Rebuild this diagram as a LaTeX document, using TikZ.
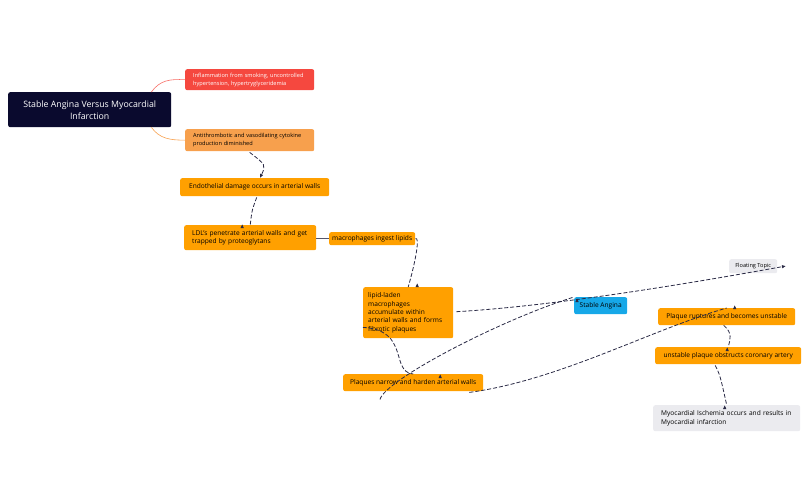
\documentclass[tikz,border=0pt]{standalone}
\usepackage{fontspec}
\setmainfont{Open Sans}
\usetikzlibrary{arrows.meta}
\definecolor{navy}{HTML}{0A0A2E}
\definecolor{redb}{HTML}{F5483F}
\definecolor{lorange}{HTML}{F7A04D}
\definecolor{orangeb}{HTML}{FFA000}
\definecolor{blueb}{HTML}{16A8E8}
\definecolor{grayb}{HTML}{EBEBEF}
\definecolor{linec}{HTML}{2A2A45}
\begin{document}
\begin{tikzpicture}[x=1pt,y=-1pt,
 box/.style={rounded corners=2pt,inner sep=0pt,font=\fontsize{6.6}{8.4}\selectfont,align=left,anchor=north west},
 ob/.style={box,fill=orangeb,text=black},
 dsh/.style={draw=linec,dashed,dash pattern=on 4pt off 2pt,thick,-{Latex[length=4pt,width=3.5pt]}}]
\useasboundingbox (0,0) rectangle (810,501);
\node[box,fill=navy,text=white,minimum width=163pt,minimum height=35pt,align=center,font=\fontsize{8.8}{12}\selectfont] (root) at (8,92) {Stable Angina Versus Myocardial\\Infarction};
\node[box,fill=redb,text=white,minimum width=129pt,minimum height=21pt,font=\fontsize{5.6}{7.8}\selectfont,text width=121pt] (red) at (185,69) {\hspace*{4pt}Inflammation from smoking, uncontrolled\\\hspace*{4pt}hypertension, hypertryglyceridemia};
\node[box,fill=lorange,text=black,minimum width=129pt,minimum height=22pt,font=\fontsize{5.6}{7.8}\selectfont,text width=121pt] (lo) at (185,129) {\hspace*{4pt}Antithrombotic and vasodilating cytokine\\\hspace*{4pt}production diminished};
\node[ob,minimum width=149pt,minimum height=18pt,align=center] (endo) at (180,178) {Endothelial damage occurs in arterial walls};
\node[ob,minimum width=132pt,minimum height=25pt,text width=124pt] (ldl) at (184,225) {\hspace*{4pt}LDL's penetrate arterial walls and get\\\hspace*{4pt}trapped by proteoglytans};
\node[ob,minimum width=86pt,minimum height=13pt,align=center] (mac) at (329,232) {macrophages ingest lipids};
\node[ob,minimum width=90pt,minimum height=51pt,text width=80pt,inner xsep=4pt] (lip) at (363,287) {lipid-laden\\macrophages\\accumulate within\\arterial walls and forms\\fibrotic plaques};
\node[box,fill=blueb,text=black,minimum width=53pt,minimum height=17pt,align=center] (sa) at (574,297) {Stable Angina};
\node[box,fill=grayb,text=black,minimum width=48pt,minimum height=14pt,align=center,font=\fontsize{5.6}{7}\selectfont] (ft) at (729,259) {Floating Topic};
\node[ob,minimum width=137pt,minimum height=17pt,align=center] (rup) at (658,308) {Plaque ruptures and becomes unstable};
\node[ob,minimum width=146pt,minimum height=17pt,align=center] (unst) at (655,347) {unstable plaque obstructs coronary artery};
\node[box,fill=grayb,text=black,minimum width=147pt,minimum height=26pt,text width=139pt] (myo) at (653,405) {\hspace*{4pt}Myocardial Ischemia occurs and results in\\\hspace*{4pt}Myocardial infarction};
\node[ob,minimum width=140pt,minimum height=17pt,align=center] (pn) at (343,374) {Plaques narrow and harden arterial walls};
\coordinate (ftend) at (786,266);
% branches
\draw[redb!80,semithick] (root.north east)++(-20,0) .. controls (160,80) and (170,79) .. (red.west);
\draw[lorange,semithick] (root.south east)++(-20,0) .. controls (160,139) and (170,140) .. (lo.west);
\draw[linec!80,thick] (ldl.east|-mac.west) -- (mac.west);
% dashed arrows
\draw[dsh] (lo.south)++(0,1) .. controls (266,165) .. (endo.north-|260,0);
\draw[dsh] (endo.south)++(2,1) .. controls (252,210) .. (ldl.north)++(-8,-1);
\draw[dsh] (mac.east) .. controls (420,236) and (416,260) .. (lip.north)++(9,-4);
\draw[dsh] (lip.east)++(3,-1) .. controls (520,308) and (620,296) .. (ftend);
\draw[dsh] (pn.south west)++(37,8) .. controls (385,380) and (500,320) .. (sa.north west)++(3,1);
\draw[dsh] (lip.south west)++(0,-11) .. controls (410,330) and (390,372) .. (pn.north)++(27,0);
\draw[dsh] (pn.south east)++(-14,1) .. controls (560,380) and (650,330) .. (rup.north)++(8,-3);
\draw[dsh] (rup.south)++(-3,0) .. controls (733,333) and (730,340) .. (unst.north)++(-1,0);
\draw[dsh] (unst.south)++(-13,1) .. controls (720,375) .. (myo.north)++(-2,0);
\end{tikzpicture}
\end{document}
